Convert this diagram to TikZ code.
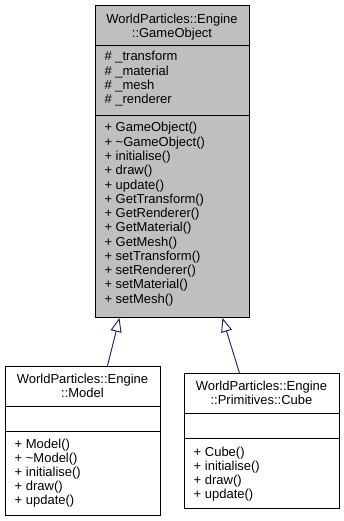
\documentclass[tikz,border=0pt]{standalone}
\usepackage{fontspec}
\setmainfont{Liberation Sans}
\usetikzlibrary{arrows.meta}
\definecolor{edgeblue}{HTML}{191970}
\definecolor{focusgray}{HTML}{BFBFBF}
\tikzset{
  classbox/.style={draw=black, line width=0.9pt, rectangle, inner sep=0pt, anchor=north west},
  focusbox/.style={classbox, fill=focusgray},
  plainbox/.style={classbox, fill=white},
  sepline/.style={draw=black, line width=0.9pt},
  umltext/.style={inner sep=0pt, font=\fontsize{13}{14}\selectfont},
  title/.style={umltext, anchor=base},
  member/.style={umltext, anchor=base west},
  inherit/.style={draw=edgeblue, line width=0.9pt, -{Triangle[open, length=14pt, width=11pt]}}
}
\begin{document}
\begin{tikzpicture}[x=1pt, y=-1pt]
\useasboundingbox (0,0) rectangle (344,521);

% base class
\node[focusbox, minimum width=154pt, minimum height=312pt] (go) at (95,5) {};
\draw[sepline] (95,45) -- (249,45);
\draw[sepline] (95,115) -- (249,115);
\node[title] (go-t1) at (172,23.3) {WorldParticles::Engine};
\node[title] (go-t2) at (172,37.3) {::GameObject};
\foreach \m [count=\i] in {\_transform, \_material, \_mesh, \_renderer}
  \node[member] (go-a\i) at (104.3, {61+14.1*(\i-1)}) {\# \m};
\foreach \m [count=\i] in {GameObject(), \textasciitilde GameObject(), initialise(), draw(), update(),
    GetTransform(), GetRenderer(), GetMaterial(), GetMesh(), setTransform(),
    setRenderer(), setMaterial(), setMesh()}
  \node[member] (go-o\i) at (104.3, {132+14.27*(\i-1)}) {+ \m};

% derived class: Model
\node[plainbox, minimum width=155pt, minimum height=149pt] (model) at (5,366) {};
\draw[sepline] (5,406) -- (160,406);
\draw[sepline] (5,431) -- (160,431);
\node[title] (model-t1) at (82.5,383.7) {WorldParticles::Engine};
\node[title] (model-t2) at (82.5,397.7) {::Model};
\foreach \m [count=\i] in {Model(), \textasciitilde Model(), initialise(), draw(), update()}
  \node[member] (model-o\i) at (14.5, {448.7+13.9*(\i-1)}) {+ \m};

% derived class: Cube
\node[plainbox, minimum width=155pt, minimum height=135pt] (cube) at (184,373) {};
\draw[sepline] (184,413) -- (339,413);
\draw[sepline] (184,438) -- (339,438);
\node[title] (cube-t1) at (261.5,390.7) {WorldParticles::Engine};
\node[title] (cube-t2) at (261.5,404.7) {::Primitives::Cube};
\foreach \m [count=\i] in {Cube(), initialise(), draw(), update()}
  \node[member] (cube-o\i) at (193.5, {456.3+13.9*(\i-1)}) {+ \m};

% inheritance edges
\draw[inherit] ([xshift=24.5pt]model.north) -- ([xshift=-53pt]go.south);
\draw[inherit] ([xshift=-22.5pt]cube.north) -- ([xshift=50pt]go.south);
\end{tikzpicture}
\end{document}
